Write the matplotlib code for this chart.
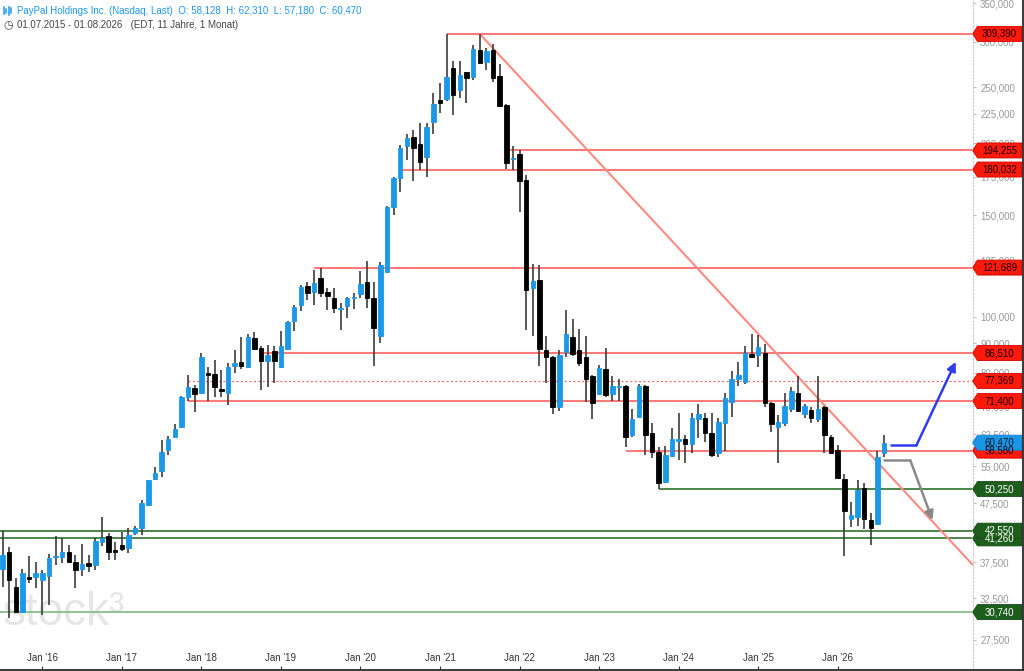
import matplotlib
matplotlib.use('Agg')
import matplotlib.pyplot as plt
from matplotlib.patches import Polygon
from matplotlib.lines import Line2D
from matplotlib.ticker import NullLocator, FixedLocator, FixedFormatter

plt.rcParams['font.family'] = ['Liberation Sans', 'DejaVu Sans']

# ---------------- data (monthly candles, index 0 = Jul 2015) ----------------
opens = [36.5, 39.1, 34.0, 30.8, 35.4, 35.3, 34.9, 35.5, 38.3, 38.3,
         39.0, 37.6, 36.5, 37.4, 37.1, 40.7, 41.6, 39.4, 40.2, 39.7,
         42.1, 43.0, 47.1, 52.3, 53.9, 58.7, 61.9, 64.3, 72.7, 75.1,
         73.7, 79.8, 79.5, 75.0, 73.8, 82.1, 83.3, 81.9, 91.7, 88.2,
         83.9, 87.2, 81.9, 87.9, 98.4, 104.8, 113.1, 110.5, 116.6, 110.5,
         107.9, 103.3, 104.5, 107.8, 109.4, 114.8, 107.7, 92.5, 119.7, 154.7,
         174.3, 198.0, 205.3, 199.0, 188.9, 217.4, 237.7, 238.5, 270.0, 247.3,
         265.3, 260.8, 290.1, 276.2, 290.1, 261.9, 233.0, 187.7, 191.3, 172.7,
         112.3, 115.8, 87.6, 85.3, 69.8, 86.9, 92.1, 87.6, 85.0, 79.0,
         73.4, 81.2, 73.4, 75.6, 75.8, 62.4, 66.9, 75.9, 62.9, 58.3,
         51.6, 57.3, 60.9, 61.3, 60.2, 66.6, 66.8, 62.9, 58.1, 65.5,
         71.2, 77.9, 77.1, 86.2, 85.8, 86.4, 70.9, 64.5, 65.3, 69.1,
         73.8, 67.8, 68.9, 66.4, 69.6, 61.9, 58.7, 52.3, 44.6, 45.0,
         50.4, 44.4, 43.7, 58.128]
highs = [42.55, 39.9, 35.2, 36.5, 38.5, 37.5, 36.3, 38.8, 41.7, 41.3,
         40.2, 38.6, 40.3, 38.6, 41.3, 44.9, 42.1, 40.6, 42.4, 43.0,
         43.4, 48.1, 52.1, 54.9, 61.1, 62.1, 65.2, 73.0, 79.2, 76.1,
         86.4, 81.9, 84.1, 80.8, 83.0, 87.5, 92.1, 93.3, 93.9, 88.8,
         89.3, 88.8, 94.5, 98.5, 104.8, 113.5, 115.0, 120.5, 121.689, 112.0,
         112.0, 105.5, 108.3, 110.1, 120.0, 124.9, 115.0, 124.3, 155.5, 175.0,
         198.6, 207.2, 210.8, 216.5, 216.5, 244.1, 254.0, 309.39, 277.7, 277.7,
         265.5, 296.0, 309.39, 292.8, 296.9, 274.1, 234.0, 198.0, 195.0, 176.1,
         123.3, 123.0, 92.6, 85.5, 87.5, 102.7, 99.0, 95.4, 92.5, 79.3,
         82.5, 88.4, 79.0, 77.9, 76.2, 69.1, 76.3, 76.2, 65.5, 59.5,
         59.7, 64.0, 68.2, 62.4, 68.2, 70.5, 68.0, 68.2, 66.7, 73.8,
         80.6, 83.6, 89.0, 93.2, 93.0, 89.7, 71.0, 67.5, 73.8, 75.6,
         78.9, 70.6, 69.6, 78.9, 70.0, 62.4, 59.9, 53.4, 47.8, 52.2,
         51.4, 45.7, 58.5, 62.31]
lows = [34.0, 30.0, 30.6, 30.6, 34.5, 33.9, 30.4, 31.6, 37.1, 37.4,
        37.4, 33.9, 35.5, 36.1, 36.3, 40.0, 37.8, 37.9, 39.3, 38.9,
        41.8, 41.9, 47.0, 52.0, 52.8, 57.6, 61.8, 64.0, 71.4, 68.4,
        73.5, 71.5, 72.7, 72.7, 70.3, 80.0, 81.2, 81.5, 87.5, 74.6,
        75.4, 76.7, 81.5, 87.5, 94.5, 102.4, 106.9, 104.8, 108.3, 102.7,
        101.4, 94.8, 99.4, 103.2, 107.7, 103.7, 82.1, 89.9, 119.0, 150.1,
        164.8, 187.0, 172.0, 179.7, 175.0, 207.2, 225.4, 236.7, 223.8, 239.8,
        234.5, 257.3, 275.0, 267.9, 255.6, 231.0, 180.4, 179.7, 152.1, 94.8,
        92.5, 82.1, 76.7, 67.7, 68.6, 85.3, 85.5, 82.1, 71.2, 66.4,
        73.2, 72.7, 71.4, 71.4, 59.4, 61.9, 66.7, 57.6, 56.8, 50.25,
        51.4, 57.0, 56.4, 55.7, 58.0, 61.5, 60.7, 57.2, 57.0, 58.5,
        67.1, 75.8, 76.4, 84.7, 81.9, 69.6, 63.2, 55.7, 64.7, 68.4,
        68.6, 66.7, 65.3, 65.8, 58.0, 58.0, 52.4, 38.4, 43.2, 43.3,
        42.8, 40.2, 43.5, 57.18]
closes = [38.6, 34.9, 30.8, 35.9, 35.1, 36.0, 36.0, 38.1, 38.5, 39.1,
          37.6, 36.4, 37.2, 37.0, 40.9, 41.4, 39.1, 39.1, 39.6, 41.9,
          43.0, 47.5, 52.0, 53.5, 58.3, 61.3, 63.8, 72.7, 75.6, 73.4,
          85.0, 79.1, 75.6, 74.4, 81.9, 83.0, 82.0, 92.1, 87.8, 83.8,
          85.8, 83.8, 88.8, 98.0, 103.8, 112.7, 109.8, 114.3, 109.8, 108.8,
          103.4, 103.6, 107.9, 108.2, 113.8, 107.9, 95.7, 123.0, 155.2, 174.3,
          195.8, 204.0, 196.5, 185.7, 213.6, 233.9, 234.5, 260.2, 242.5, 262.6,
          259.7, 291.3, 275.8, 289.0, 259.7, 232.3, 184.6, 188.7, 172.0, 111.3,
          115.3, 87.8, 85.0, 69.8, 85.8, 93.3, 86.1, 83.2, 78.0, 70.9,
          81.4, 73.3, 75.8, 75.9, 61.9, 66.5, 75.9, 62.4, 58.3, 51.5,
          57.6, 61.3, 61.3, 60.2, 66.7, 67.7, 62.8, 57.6, 65.6, 72.2,
          77.9, 79.2, 86.6, 85.0, 88.5, 70.9, 65.2, 65.6, 70.0, 74.3,
          68.7, 70.0, 66.8, 69.1, 62.4, 58.1, 52.5, 46.0, 45.3, 50.1,
          44.5, 43.0, 57.2, 60.47]
months = list(range(len(closes)))

year_ticks = [6, 18, 30, 42, 54, 66, 78, 90, 102, 114, 126]
year_labels = ["Jan '16", "Jan '17", "Jan '18", "Jan '19", "Jan '20", "Jan '21",
               "Jan '22", "Jan '23", "Jan '24", "Jan '25", "Jan '26"]

price_ticks = [27.5, 32.5, 37.5, 42.5, 47.5, 55, 62.5, 70, 80, 90, 100,
               125, 150, 175, 200, 225, 250, 300, 350]

# horizontal levels: value, first month index
red_levels = [309.39, 194.255, 180.032, 121.689, 86.51, 71.4, 58.58]
red_starts = [67, 76, 60, 47, 39, 28, 94]
dotted_level = 77.369
dotted_start = 28
green_levels = [50.25, 41.26, 42.55, 30.74]
green_starts = [99, -0.4, -0.4, -0.4]
last_close = 60.47

trend_x = [72, 146.3]
trend_y = [309.39, 37.2]
blue_path_x = [133.9, 137.9]
blue_path_y = [59.9, 59.9]
blue_tip = (143.8, 83.5)
grey_path_x = [132.9, 136.95]
grey_path_y = [56.4, 56.4]
grey_tip = (140.3, 44.4)

# ---------------- figure ----------------
W, H = 1024, 671
fig = plt.figure(figsize=(W / 100, H / 100), dpi=100)
ax = fig.add_axes([0, 2 / H, 972.5 / W, 669 / H])
ax.set_yscale('log')
ax.set_ylim(24.49, 354.3)
ax.set_xlim(-0.38, 146.34)

UP = '#1b98e8'
DOWN = '#000000'
colors = [UP if c >= o else DOWN for o, c in zip(opens, closes)]
ax.vlines(months, lows, highs, colors='#3c3c3c', lw=1.2, zorder=3)
bottoms = [min(o, c) for o, c in zip(opens, closes)]
heights = [abs(c - o) for o, c in zip(opens, closes)]
ax.bar(months, heights, bottom=bottoms, width=0.68, color=colors,
       edgecolor=colors, linewidth=0.6, zorder=4)

xmax = ax.get_xlim()[1]
for v, s in zip(red_levels, red_starts):
    ax.hlines(v, s, xmax, colors='#ff7a7a', lw=1.5, zorder=2)
ax.hlines(dotted_level, dotted_start, xmax, colors='#ff6060', lw=0.9,
          linestyles=(0, (1.5, 2)), zorder=2)
for v, s in zip(green_levels, green_starts):
    col = '#8dbb8d' if v < 35 else '#3d7d3d'
    ax.hlines(v, s, xmax, colors=col, lw=1.3, zorder=2)

ax.plot(trend_x, trend_y, color='#ff8a80', lw=1.5, zorder=2)

ax.plot(blue_path_x, blue_path_y, color='#2d3cf0', lw=1.8, zorder=5,
        solid_capstyle='butt')
ax.annotate('', xy=blue_tip, xytext=(blue_path_x[-1], blue_path_y[-1]),
            arrowprops=dict(arrowstyle='-|>', color='#2d3cf0', lw=1.8,
                            mutation_scale=13, shrinkA=0, shrinkB=0), zorder=5)
ax.plot(grey_path_x, grey_path_y, color='#8a8a8a', lw=1.8, zorder=5,
        solid_capstyle='butt')
ax.annotate('', xy=grey_tip, xytext=(grey_path_x[-1], grey_path_y[-1]),
            arrowprops=dict(arrowstyle='-|>', color='#8a8a8a', lw=1.8,
                            mutation_scale=13, shrinkA=0, shrinkB=0), zorder=5)

# watermark
ax.text(0.003, 0.066, 'stock\u00b3', transform=ax.transAxes, fontsize=33,
        color='#e6e6e6', ha='left', va='baseline', zorder=0.5)

# axes styling
for sp in ['top', 'left', 'bottom']:
    ax.spines[sp].set_visible(False)
ax.spines['right'].set_color('#d4d4d4')
ax.spines['right'].set_linestyle((0, (1, 1.5)))
ax.spines['right'].set_linewidth(1)

ax.yaxis.tick_right()
ax.yaxis.set_major_locator(FixedLocator(price_ticks))
ax.yaxis.set_major_formatter(FixedFormatter([f"{v:.3f}".replace('.', ',') for v in price_ticks]))
ax.yaxis.set_minor_locator(NullLocator())
ax.tick_params(axis='y', which='major', length=2.5, width=0.8, color='#bdbdbd',
               labelcolor='#9a9a9a', labelsize=7, pad=3)

ax.set_xticks(year_ticks)
ax.set_xticklabels([''] * len(year_ticks))
ax.tick_params(axis='x', direction='in', length=2.5, width=0.8, color='#333333')
for t, lab in zip(year_ticks, year_labels):
    ax.text(t, 0.016, lab, transform=ax.get_xaxis_transform(), ha='center',
            va='center', fontsize=7, color='#333333')

# frame lines
fig.add_artist(Line2D([0, 1022.5 / W], [1.5 / H, 1.5 / H], color='#2a2a2a', lw=1.3))
fig.add_artist(Line2D([1022.5 / W, 1022.5 / W], [1.5 / H, 1], color='#2a2a2a', lw=1.3))

# price tags on the right axis
fig.canvas.draw()


def tag(value, fc, tc, ec):
    py = ax.transData.transform((0, value))[1]
    x0, x1, x2 = 972.7, 977.5, 1022
    h = 7.5
    pts = [(x0, py), (x1, py + h), (x2, py + h), (x2, py - h), (x1, py - h)]
    pts = [(px / W, pyy / H) for px, pyy in pts]
    fig.add_artist(Polygon(pts, closed=True, transform=fig.transFigure,
                           facecolor=fc, edgecolor=ec, lw=0.6))
    fig.text(999.5 / W, py / H, f"{value:.3f}".replace('.', ','), ha='center',
             va='center', fontsize=7, color=tc)


for v in red_levels:
    tag(v, '#ff1a0a', '#1a0000', '#d00000')
tag(dotted_level, '#ff1a0a', '#1a0000', '#d00000')
tag(last_close, '#1a96e6', '#0a1a2a', '#1080d0')
for v in green_levels:
    tag(v, '#1d5e1d', '#ffffff', '#134a13')

# header
fig.text(17 / W, 1 - 10.5 / H,
         'PayPal Holdings Inc. (Nasdaq, Last)  O: 58,128  H: 62,310  L: 57,180  C: 60,470',
         fontsize=7, color='#2196f0', va='center', ha='left')
fig.text(17 / W, 1 - 25 / H, '01.07.2015 - 01.08.2026   (EDT, 11 Jahre, 1 Monat)',
         fontsize=7, color='#444444', va='center', ha='left')
fig.text(3 / W, 1 - 25 / H, '\u25f7', fontsize=8, color='#444444', va='center',
         ha='left', family='DejaVu Sans')
for k, (hh, off) in enumerate([(7, 0), (4, 1.5), (8, -0.5), (5, 1)]):
    xx = (4 + k * 2.3) / W
    y0 = 1 - (14 - off) / H
    fig.add_artist(Line2D([xx, xx], [y0, y0 + hh / H], color='#2196f0', lw=1.1))

fig.savefig('out.png', dpi=100)
